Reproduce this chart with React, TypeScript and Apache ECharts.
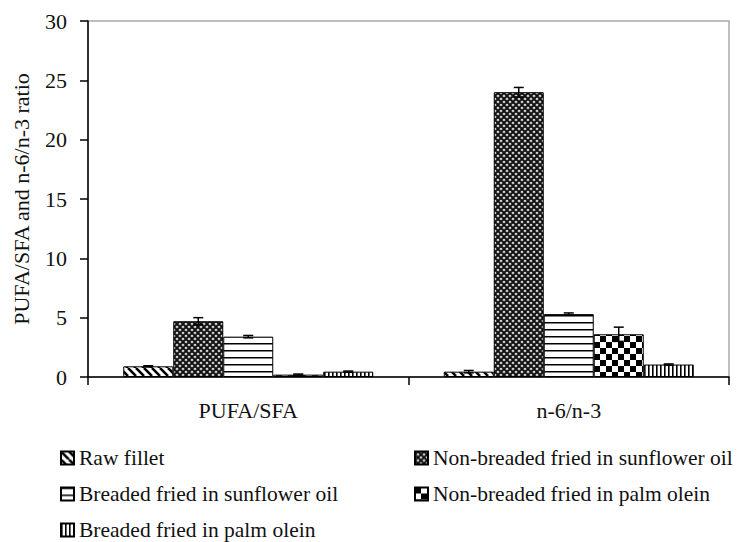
import React, { useEffect, useRef } from "react";
import * as echarts from "echarts";

const categories = ["PUFA/SFA", "n-6/n-3"];
const seriesNames = [
  "Raw fillet",
  "Non-breaded fried in sunflower oil",
  "Breaded fried in sunflower oil",
  "Non-breaded fried in palm olein",
  "Breaded fried in palm olein",
];
const rawFillet = [0.9, 0.45];
const nonBreadedSunflower = [4.7, 24.0];
const breadedSunflower = [3.4, 5.3];
const nonBreadedPalm = [0.2, 3.6];
const breadedPalm = [0.45, 1.05];
const rawFilletErr = [0.05, 0.1];
const nonBreadedSunflowerErr = [0.3, 0.4];
const breadedSunflowerErr = [0.1, 0.1];
const nonBreadedPalmErr = [0.05, 0.6];
const breadedPalmErr = [0.05, 0.05];
const yTicks = [0, 5, 10, 15, 20, 25, 30];

const FONT = "Liberation Serif";
const GAP = 0.22;

function makePattern(kind: string) {
  const c = document.createElement("canvas");
  let w = 8, h = 8;
  if (kind === "diag") { w = 8; h = 8; }
  if (kind === "dots") { w = 6; h = 6; }
  if (kind === "hlines") { w = 8; h = 7; }
  if (kind === "check") { w = 12; h = 12; }
  if (kind === "vlines") { w = 4; h = 8; }
  c.width = w; c.height = h;
  const ctx = c.getContext("2d")!;
  ctx.fillStyle = "#fff";
  ctx.fillRect(0, 0, w, h);
  ctx.fillStyle = "#000";
  ctx.strokeStyle = "#000";
  if (kind === "diag") {
    ctx.lineWidth = 2.6;
    for (const o of [-8, 0, 8]) {
      ctx.beginPath();
      ctx.moveTo(o, 0);
      ctx.lineTo(o + 8, 8);
      ctx.stroke();
    }
  } else if (kind === "dots") {
    ctx.fillStyle = "#111";
    ctx.fillRect(0, 0, w, h);
    ctx.fillStyle = "#fff";
    for (const [x, y] of [[0, 0], [6, 0], [0, 6], [6, 6], [3, 3]]) {
      ctx.beginPath();
      ctx.arc(x, y, 1.35, 0, Math.PI * 2);
      ctx.fill();
    }
    ctx.fillStyle = "#000";
    for (const [x, y] of [[0, 0], [6, 0], [0, 6], [6, 6], [3, 3]]) {
      ctx.beginPath();
      ctx.arc(x, y, 0.6, 0, Math.PI * 2);
      ctx.fill();
    }
  } else if (kind === "hlines") {
    ctx.fillRect(0, 0, w, 1.5);
  } else if (kind === "check") {
    ctx.fillRect(0, 0, 6, 6);
    ctx.fillRect(6, 6, 6, 6);
  } else if (kind === "vlines") {
    ctx.fillRect(0, 0, 1.6, h);
  }
  return { image: c, repeat: "repeat", imageWidth: w, imageHeight: h } as any;
}

export default function App() {
  const ref = useRef<HTMLDivElement>(null);
  useEffect(() => {
    if (!ref.current) return;
    const chart = echarts.init(ref.current, null, { renderer: "svg" });
    const values = [rawFillet, nonBreadedSunflower, breadedSunflower, nonBreadedPalm, breadedPalm];
    const errs = [rawFilletErr, nonBreadedSunflowerErr, breadedSunflowerErr, nonBreadedPalmErr, breadedPalmErr];
    const kinds = ["diag", "dots", "hlines", "check", "vlines"];
    const errData: number[][] = [];
    values.forEach((vals, s) => {
      vals.forEach((v, ci) => errData.push([ci, s, v, errs[s][ci]]));
    });
    const barSeries = seriesNames.map((name, i) => ({
      name,
      type: "bar",
      data: values[i],
      barGap: "0%",
      barCategoryGap: GAP * 100 + "%",
      itemStyle: { color: makePattern(kinds[i]), borderColor: "#000", borderWidth: 1 },
    }));
    const legendText = { fontFamily: FONT, fontSize: 21.5, color: "#111" };
    const legendPos = [
      [60, 447], [414, 447], [60, 483], [414, 483], [60, 519],
    ];
    const legends = seriesNames.map((n, i) => ({
      data: [n],
      orient: "horizontal",
      left: legendPos[i][0],
      top: legendPos[i][1],
      padding: 0,
      itemGap: 0,
      icon: "rect",
      itemWidth: 13,
      itemHeight: 13,
      textStyle: legendText,
    }));
    chart.setOption({
      animation: false,
      backgroundColor: "#fff",
      grid: { left: 88, top: 21, right: 10, bottom: 165, show: true, borderColor: "#aaa", borderWidth: 1.5 },
      legend: legends,
      xAxis: {
        type: "category",
        data: categories,
        axisLine: { lineStyle: { color: "#000", width: 1.5 } },
        axisTick: { show: true, length: 8, lineStyle: { color: "#000", width: 1.5 } },
        axisLabel: { fontFamily: FONT, fontSize: 22, color: "#111", margin: 22 },
      },
      yAxis: {
        type: "value",
        min: yTicks[0],
        max: yTicks[yTicks.length - 1],
        interval: 5,
        name: "PUFA/SFA and n-6/n-3 ratio",
        nameLocation: "middle",
        nameRotate: 90,
        nameGap: 56,
        nameTextStyle: { fontFamily: FONT, fontSize: 22, color: "#111" },
        splitLine: { show: false },
        axisLine: { show: true, lineStyle: { color: "#000", width: 1.5 } },
        axisTick: { show: true, length: 8, lineStyle: { color: "#000", width: 1.5 } },
        axisLabel: { fontFamily: FONT, fontSize: 22, color: "#111", margin: 21 },
      },
      series: [
        ...barSeries,
        {
          type: "custom",
          name: "errors",
          data: errData,
          encode: { x: 0, y: 2 },
          z: 5,
          renderItem: (params: any, api: any) => {
            const cat = api.value(0);
            const s = api.value(1);
            const v = api.value(2);
            const e = api.value(3);
            const bw = api.size([1, 0])[0];
            const groupW = bw * (1 - GAP);
            const barW = groupW / 5;
            const x = api.coord([cat, 0])[0] - groupW / 2 + barW * (s + 0.5);
            const yTop = api.coord([cat, v + e])[1];
            const yBot = api.coord([cat, v - e])[1];
            const st = { stroke: "#000", lineWidth: 1.5 };
            return {
              type: "group",
              children: [
                { type: "line", shape: { x1: x, y1: yTop, x2: x, y2: yBot }, style: st },
                { type: "line", shape: { x1: x - 5, y1: yTop, x2: x + 5, y2: yTop }, style: st },
                { type: "line", shape: { x1: x - 5, y1: yBot, x2: x + 5, y2: yBot }, style: st },
              ],
            };
          },
        },
      ],
    });
    return () => chart.dispose();
  }, []);
  return <div ref={ref} style={{ width: 739, height: 542, position: "absolute", left: 0, top: 0 }} />;
}
